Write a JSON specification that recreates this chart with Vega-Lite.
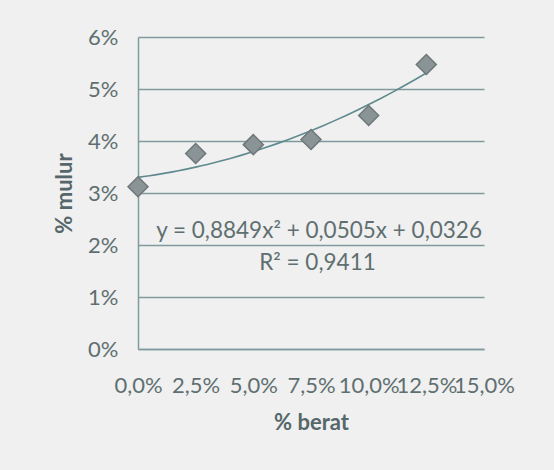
{
  "$schema": "https://vega.github.io/schema/vega-lite/v6.json",
  "width": 346,
  "height": 312,
  "autosize": {"type": "none"},
  "padding": {"left": 138, "top": 37, "right": 70, "bottom": 121},
  "background": "#eff0ef",
  "config": {
    "locale": {"number": {"decimal": ",", "thousands": ".", "grouping": [3], "currency": ["", " €"]}},
    "view": {"stroke": null},
    "font": "Lato"
  },
  "data": {
    "values": [
      {"berat": 0.0, "mulur": 0.0312},
      {"berat": 0.025, "mulur": 0.0376},
      {"berat": 0.05, "mulur": 0.0393},
      {"berat": 0.075, "mulur": 0.0403},
      {"berat": 0.10, "mulur": 0.0449},
      {"berat": 0.125, "mulur": 0.0547}
    ]
  },
  "encoding": {
    "x": {
      "field": "berat", "type": "quantitative",
      "scale": {"domain": [0, 0.15], "nice": false, "zero": true},
      "axis": {
        "title": "% berat", "format": ".1%", "values": [0, 0.025, 0.05, 0.075, 0.1, 0.125, 0.15],
        "grid": false, "ticks": false, "domainColor": "#7f9a9e", "domainWidth": 1.5,
        "labelFont": "Lato", "labelFontSize": 22, "labelColor": "#5f6f71", "labelPadding": 26,
        "labelOverlap": false, "labelFlush": false,
        "titleFont": "Lato", "titleFontSize": 22, "titleFontWeight": "bold", "titleColor": "#55676a", "titlePadding": 16
      }
    },
    "y": {
      "field": "mulur", "type": "quantitative",
      "scale": {"domain": [0, 0.06], "nice": false},
      "axis": {
        "title": "% mulur", "format": ".0%", "values": [0, 0.01, 0.02, 0.03, 0.04, 0.05, 0.06],
        "labelOverlap": false,
        "grid": true, "gridColor": "#7f9a9e", "gridWidth": 1.5, "ticks": false,
        "domainColor": "#7f9a9e", "domainWidth": 1.5,
        "labelFont": "Lato", "labelFontSize": 22, "labelColor": "#5f6f71", "labelPadding": 20,
        "titleFont": "Lato", "titleFontSize": 22, "titleFontWeight": "bold", "titleColor": "#55676a", "titlePadding": 11
      }
    }
  },
  "layer": [
    {
      "transform": [{"regression": "mulur", "on": "berat", "method": "poly", "order": 2, "extent": [0, 0.125]}],
      "mark": {"type": "line", "color": "#5f8a8f", "strokeWidth": 1.6}
    },
    {
      "mark": {"type": "point", "shape": "diamond", "size": 400, "filled": true, "fill": "#8a9395", "stroke": "#6e7779", "strokeWidth": 1.5, "opacity": 1}
    },
    {
      "transform": [{"filter": "datum.berat == 0"}],
      "mark": {"type": "text", "text": "y = 0,8849x² + 0,0505x + 0,0326", "font": "Lato", "fontWeight": "normal", "fontSize": 22.5, "color": "#5f6f71", "align": "center", "baseline": "middle"},
      "encoding": {"x": {"datum": 0.0785, "type": "quantitative"}, "y": {"datum": 0.0227, "type": "quantitative"}}
    },
    {
      "transform": [{"filter": "datum.berat == 0"}],
      "mark": {"type": "text", "text": "R² = 0,9411", "font": "Lato", "fontWeight": "normal", "fontSize": 22.5, "color": "#5f6f71", "align": "center", "baseline": "middle"},
      "encoding": {"x": {"datum": 0.0778, "type": "quantitative"}, "y": {"datum": 0.0166, "type": "quantitative"}}
    }
  ]
}
